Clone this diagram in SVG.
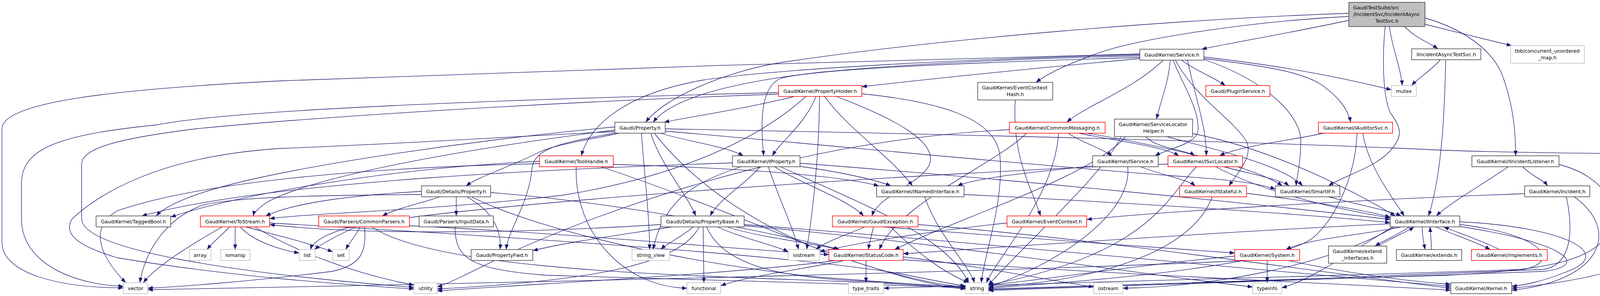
<svg xmlns="http://www.w3.org/2000/svg" width="4308" height="758" viewBox="0 0 4308 758">
<style>
.e{fill:none;stroke:#191970;stroke-width:1.3;marker-end:url(#a)}
.b{fill:#fff;stroke:#404040;stroke-width:1.5}
.r{fill:#fff;stroke:#ff0000;stroke-width:1.5}
.g{fill:#fff;stroke:#bfbfbf;stroke-width:1.5}
.rt{fill:#bfbfbf;stroke:#404040;stroke-width:1.5}
text{font-family:"DejaVu Sans",Verdana,sans-serif;font-size:12.7px;fill:#000}
.m{text-anchor:middle}
</style>
<defs>
<marker id="a" markerWidth="14" markerHeight="10" refX="13" refY="5" orient="auto" markerUnits="userSpaceOnUse"><path d="M0,0 L13,5 L0,10 z" fill="#191970"/></marker>
</defs>
<rect width="4308" height="758" fill="#fff"/>
<g id="connectors">
<path class="e" d="M3453,52 C3300,85 3150,110 3076,126"/>
<path class="e" d="M3453,42 C3200,55 2900,100 2800,140 C2720,170 2680,190 2652,211"/>
<path class="e" d="M3453,34 C3000,50 2400,100 2000,160 C1860,182 1700,250 1653,313"/>
<path class="e" d="M3546,68 C3538,150 3540,250 3560,290 C3590,330 3590,350 3560,385 C3520,430 3440,450 3401,476"/>
<path class="e" d="M3557,68 C3563,120 3585,170 3590,219"/>
<path class="e" d="M3596,68 C3620,95 3660,110 3681,125"/>
<path class="e" d="M3648,46 C3750,75 3820,130 3845,190 C3875,270 3880,340 3880,399"/>
<path class="e" d="M3648,62 C3720,80 3800,100 3870,117"/>
<path class="e" d="M3687,153 C3665,180 3630,200 3614,219"/>
<path class="e" d="M3701,153 C3698,300 3690,450 3657,553"/>
<path class="e" d="M2918,150 C2700,170 2400,200 2206,222"/>
<path class="e" d="M2918,143 C2600,150 2300,165 2100,185 C1880,210 1720,250 1672,313"/>
<path class="e" d="M2918,140 C2500,150 2000,175 1800,205 C1600,240 1510,320 1488,399"/>
<path class="e" d="M2918,147 C2500,160 2100,175 2000,200 C1950,220 1945,300 1955,399"/>
<path class="e" d="M2918,138 C2400,150 1200,185 720,207 C300,228 5,260 5,330 L5,620 C5,700 150,737 316,737"/>
<path class="e" d="M2978,154 C2900,230 2780,270 2731,313"/>
<path class="e" d="M2996,154 C2990,220 2970,260 2961,305"/>
<path class="e" d="M3024,154 C3060,180 3110,200 3137,219"/>
<path class="e" d="M3082,150 C3250,170 3330,185 3380,215 C3430,250 3450,280 3458,313"/>
<path class="e" d="M3082,146 C3250,165 3400,190 3562,230"/>
<path class="e" d="M3003,154 C3030,220 3070,280 3067,333 C3064,370 2990,380 2957,399"/>
<path class="e" d="M3040,154 C3060,250 3090,330 3088,399"/>
<path class="e" d="M3009,154 C3060,250 3150,300 3190,360 C3210,400 3170,440 3146,476"/>
<path class="e" d="M3082,152 C3250,210 3330,300 3330,360 C3330,420 3320,450 3318,476"/>
<path class="e" d="M2034,247 C1900,280 1760,300 1700,313"/>
<path class="e" d="M2089,247 C2060,320 2000,360 1977,399"/>
<path class="e" d="M2098,247 C2097,400 2080,550 2065,639"/>
<path class="e" d="M2111,247 C2170,330 2280,400 2336,476"/>
<path class="e" d="M2141,247 C2280,300 2400,360 2380,420 C2360,470 2250,500 2232,553"/>
<path class="e" d="M1993,237 C1300,255 600,280 400,320 C150,345 55,380 55,470 L55,560 C55,680 200,730 316,733"/>
<path class="e" d="M1993,241 C1400,262 800,300 500,330 C300,355 209,380 209,420 L209,560 C209,640 600,700 1060,736"/>
<path class="e" d="M2206,240 C2400,260 2550,300 2560,400 C2570,520 2520,650 2512,724"/>
<path class="e" d="M2063,247 C1950,350 1750,450 1440,500 C1100,540 800,545 690,560"/>
<path class="e" d="M1585,341 C1500,360 1420,370 1380,390 C1300,430 1230,450 1193,476"/>
<path class="e" d="M1666,341 C1690,420 1760,500 1781,553"/>
<path class="e" d="M1576,340 C1450,365 1370,375 1362,430 C1355,520 1300,590 1296,639"/>
<path class="e" d="M1690,341 C1750,360 1860,375 1903,399"/>
<path class="e" d="M1703,336 C2000,360 2600,420 3000,450 C3150,460 3230,470 3265,485"/>
<path class="e" d="M1574,325 C1200,360 800,420 600,470 C480,500 420,530 400,553"/>
<path class="e" d="M1574,333 C1200,380 800,450 680,520 C660,535 650,545 648,553"/>
<path class="e" d="M1642,341 C1650,450 1663,560 1663,639"/>
<path class="e" d="M1675,341 C1760,450 1900,560 2100,640 C2300,710 2400,735 2472,738"/>
<path class="e" d="M1574,337 C1300,350 1000,370 720,380 C400,400 250,500 185,560 C160,600 200,630 300,660 C600,710 900,730 1060,740"/>
<path class="e" d="M1703,330 C2500,345 3300,365 3700,385 C4000,395 4200,390 4270,400 C4310,420 4305,550 4295,590 C4260,680 4050,720 3870,738"/>
<path class="e" d="M2628,341 C2550,420 2300,520 2251,639"/>
<path class="e" d="M2710,341 C2700,500 2560,650 2525,724"/>
<path class="e" d="M2734,341 C2770,365 2820,380 2847,399"/>
<path class="e" d="M2762,341 C2850,360 2980,375 3018,399"/>
<path class="e" d="M2783,341 C2950,370 3200,420 3283,476"/>
<path class="e" d="M2584,332 C2000,360 1500,560 1300,650 C1200,700 1150,725 1119,735"/>
<path class="e" d="M2870,350 C2820,450 2650,600 2530,730"/>
<path class="e" d="M2881,350 C2800,450 2450,560 2290,639"/>
<path class="e" d="M2933,350 C2960,380 3040,385 3058,399"/>
<path class="e" d="M2987,350 C3100,380 3280,420 3335,476"/>
<path class="e" d="M3053,342 C3250,380 3450,480 3572,553"/>
<path class="e" d="M3390,341 C3300,360 3170,375 3122,399"/>
<path class="e" d="M3474,341 C3470,450 3420,560 3360,610 C3250,690 2700,725 2530,738"/>
<path class="e" d="M3489,341 C3500,420 3560,500 3595,553"/>
<path class="e" d="M1381,413 C1000,430 600,500 437,556"/>
<path class="e" d="M1381,419 C900,430 500,470 300,540 C230,580 250,650 322,724"/>
<path class="e" d="M1475,427 C1470,600 1600,735 1759,738"/>
<path class="e" d="M1570,421 C1900,430 2150,450 2250,476"/>
<path class="e" d="M1538,427 C1700,480 1900,560 2050,620 C2250,700 2400,730 2472,735"/>
<path class="e" d="M1897,427 C1800,460 1700,500 1672,639"/>
<path class="e" d="M1946,427 C1910,470 1840,510 1818,553"/>
<path class="e" d="M1967,427 C1990,500 2030,580 2044,639"/>
<path class="e" d="M1983,427 C2050,470 2170,510 2211,553"/>
<path class="e" d="M2048,426 C2150,440 2240,460 2281,476"/>
<path class="e" d="M2048,418 C2600,460 3200,520 3559,562"/>
<path class="e" d="M1998,427 C2200,520 2420,600 2480,724"/>
<path class="e" d="M1875,417 C1500,430 700,460 363,553"/>
<path class="e" d="M2797,425 C2650,440 2500,455 2451,476"/>
<path class="e" d="M2887,427 C2900,550 2700,680 2530,735"/>
<path class="e" d="M2920,427 C2980,450 3040,460 3060,476"/>
<path class="e" d="M2990,420 C2400,440 1200,520 900,580 C830,600 800,620 795,639"/>
<path class="e" d="M3063,427 C2990,500 2950,650 2530,730"/>
<path class="e" d="M3112,427 C3250,500 3450,540 3559,558"/>
<path class="e" d="M3133,427 C3200,445 3280,460 3300,476"/>
<path class="e" d="M3861,427 C3800,470 3710,520 3677,553"/>
<path class="e" d="M3898,427 C3920,450 3950,460 3962,476"/>
<path class="e" d="M3991,421 C4100,450 4140,520 4130,570 C4100,660 4000,690 3700,705 C3200,720 2800,730 2530,740"/>
<path class="e" d="M1126,504 C1080,520 1010,535 979,553"/>
<path class="e" d="M1168,504 L1168,553"/>
<path class="e" d="M1195,504 C1260,540 1285,590 1280,639"/>
<path class="e" d="M1079,490 C900,500 750,520 680,553"/>
<path class="e" d="M1079,498 C800,500 600,505 520,525 C420,560 370,650 358,724"/>
<path class="e" d="M1256,493 C1600,520 2000,600 2150,639"/>
<path class="e" d="M1207,504 C1400,600 1800,680 2100,710 C2300,725 2400,733 2472,733"/>
<path class="e" d="M2468,498 C2900,520 3300,545 3559,570"/>
<path class="e" d="M2367,504 C2400,600 2480,680 2495,724"/>
<path class="e" d="M3191,495 C3350,515 3480,535 3559,556"/>
<path class="e" d="M3103,504 C3050,650 2800,720 2530,735"/>
<path class="e" d="M3401,504 C3480,525 3560,540 3587,553"/>
<path class="e" d="M3903,496 C3500,510 3000,540 2782,562"/>
<path class="e" d="M4010,504 C4030,600 4020,680 3950,690 C3500,710 2900,730 2530,742"/>
<path class="e" d="M4030,504 C4150,590 4100,720 3870,743"/>
<path class="e" d="M569,581 C500,620 400,680 367,724"/>
<path class="e" d="M588,581 C570,600 545,620 530,639"/>
<path class="e" d="M602,581 L602,639"/>
<path class="e" d="M615,581 C650,620 720,640 766,648"/>
<path class="e" d="M629,581 C700,600 800,625 852,645"/>
<path class="e" d="M652,581 C750,640 900,700 1060,730"/>
<path class="e" d="M690,571 C1200,600 2000,650 2300,700 C2400,720 2450,730 2472,732"/>
<path class="e" d="M911,581 C870,600 830,620 805,639"/>
<path class="e" d="M922,581 C910,605 895,620 885,639"/>
<path class="e" d="M933,581 C940,650 920,680 850,695 C650,720 450,735 378,738"/>
<path class="e" d="M952,581 C1100,680 1600,700 2000,715 C2300,725 2420,735 2472,740"/>
<path class="e" d="M1048,578 C1500,600 1900,640 2122,652"/>
<path class="e" d="M1165,581 C1165,660 1200,690 1400,705 C1900,720 2300,730 2472,736"/>
<path class="e" d="M1775,581 C1740,610 1705,625 1692,639"/>
<path class="e" d="M1800,581 L1802,724"/>
<path class="e" d="M1836,581 C1900,610 1990,630 2018,645"/>
<path class="e" d="M1861,581 C1950,610 2100,625 2147,639"/>
<path class="e" d="M1720,581 C1600,600 1450,620 1364,642"/>
<path class="e" d="M1692,575 C1300,600 900,600 690,575"/>
<path class="e" d="M1790,581 C1740,680 1500,720 1119,740"/>
<path class="e" d="M1809,581 C1850,680 2000,710 2200,720 C2350,728 2430,733 2472,734"/>
<path class="e" d="M1905,575 C2500,620 3300,700 3714,733"/>
<path class="e" d="M1905,578 C2400,620 2900,700 3207,735"/>
<path class="e" d="M2214,581 C2170,600 2110,620 2089,639"/>
<path class="e" d="M2236,581 C2232,600 2226,620 2223,639"/>
<path class="e" d="M2260,581 C2500,600 2900,630 3161,648"/>
<path class="e" d="M2350,575 C2800,610 3400,700 3714,738"/>
<path class="e" d="M2280,581 C2350,650 2420,700 2480,724"/>
<path class="e" d="M2578,571 C2400,590 2200,620 2098,645"/>
<path class="e" d="M3608,581 C3580,600 3545,615 3520,630"/>
<path class="e" d="M3641,581 C3640,600 3645,620 3648,639"/>
<path class="e" d="M3675,581 C3720,600 3780,620 3815,639"/>
<path class="e" d="M3587,581 C3500,600 3350,610 3292,639"/>
<path class="e" d="M3559,573 C3200,590 2600,630 2312,650"/>
<path class="e" d="M3565,581 C3450,650 3350,720 3281,737"/>
<path class="e" d="M3570,581 C3400,680 3100,735 2874,738"/>
<path class="e" d="M3737,568 C4000,580 4150,650 4000,700 C3950,720 3900,731 3870,733"/>
<path class="e" d="M3737,575 C3950,600 4000,670 3900,690 C3300,710 2600,730 2262,738"/>
<path class="e" d="M3737,580 C4000,620 4080,680 3950,695 C3400,715 2800,735 2530,744"/>
<path class="e" d="M3529,630 C3560,610 3600,595 3620,581"/>
<path class="e" d="M3664,639 C3665,620 3662,600 3661,581"/>
<path class="e" d="M3839,639 C3790,615 3730,595 3696,581"/>
<path class="e" d="M2162,667 C2050,690 1900,710 1845,732"/>
<path class="e" d="M2217,667 L2217,724"/>
<path class="e" d="M2312,658 C2500,680 2700,720 2800,735"/>
<path class="e" d="M2312,665 C2800,700 3400,725 3714,743"/>
<path class="e" d="M2140,667 C1900,700 1400,725 1119,745"/>
<path class="e" d="M3244,667 L3244,724"/>
<path class="e" d="M3161,656 C2900,680 2650,720 2530,730"/>
<path class="e" d="M3190,667 C2500,700 1000,730 378,742"/>
<path class="e" d="M3298,667 C3450,700 3600,720 3714,728"/>
<path class="e" d="M2599,256 C2590,400 2640,480 2664,553"/>
</g>
<g id="root"><rect class="rt" x="3453" y="6" width="195" height="62"/><text x="3464" y="24">GaudiTestSuite/src</text><text x="3464" y="41">/IncidentSvc/IncidentAsync</text><text class="m" x="3550.5" y="58">TestSvc.h</text></g>
<g id="service"><rect class="b" x="2918" y="126" width="164" height="28"/><text class="m" x="3000" y="145">GaudiKernel/Service.h</text></g>
<g id="iiatsvc"><rect class="b" x="3614" y="125" width="177" height="28"/><text class="m" x="3702.5" y="144">IIncidentAsyncTestSvc.h</text></g>
<g id="tbb"><rect class="g" x="3867" y="117" width="189" height="45"/><text x="3878" y="135">tbb/concurrent_unordered</text><text class="m" x="3961.5" y="152">_map.h</text></g>
<g id="ech"><rect class="b" x="2503" y="211" width="192" height="45"/><text x="2514" y="229">GaudiKernel/EventContext</text><text class="m" x="2599" y="246">Hash.h</text></g>
<g id="propholder"><rect class="r" x="1993" y="219" width="213" height="28"/><text class="m" x="2099.5" y="238">GaudiKernel/PropertyHolder.h</text></g>
<g id="pluginsvc"><rect class="r" x="3087" y="219" width="164" height="28"/><text class="m" x="3169" y="238">Gaudi/PluginService.h</text></g>
<g id="mutex"><rect class="g" x="3562" y="219" width="64" height="28"/><text class="m" x="3594" y="238">mutex</text></g>
<g id="property"><rect class="b" x="1574" y="313" width="129" height="28"/><text class="m" x="1638.5" y="332">Gaudi/Property.h</text></g>
<g id="commonmsg"><rect class="r" x="2584" y="313" width="245" height="28"/><text class="m" x="2706.5" y="332">GaudiKernel/CommonMessaging.h</text></g>
<g id="slh"><rect class="b" x="2853" y="305" width="200" height="45"/><text x="2864" y="323">GaudiKernel/ServiceLocator</text><text class="m" x="2953" y="340">Helper.h</text></g>
<g id="iauditor"><rect class="r" x="3375" y="313" width="190" height="28"/><text class="m" x="3470" y="332">GaudiKernel/IAuditorSvc.h</text></g>
<g id="toolhandle"><rect class="r" x="1381" y="399" width="189" height="28"/><text class="m" x="1475.5" y="418">GaudiKernel/ToolHandle.h</text></g>
<g id="iproperty"><rect class="b" x="1875" y="399" width="173" height="28"/><text class="m" x="1961.5" y="418">GaudiKernel/IProperty.h</text></g>
<g id="iservice"><rect class="b" x="2797" y="399" width="168" height="28"/><text class="m" x="2881" y="418">GaudiKernel/IService.h</text></g>
<g id="isvcloc"><rect class="r" x="2990" y="399" width="191" height="28"/><text class="m" x="3085.5" y="418">GaudiKernel/ISvcLocator.h</text></g>
<g id="iincl"><rect class="b" x="3768" y="399" width="223" height="28"/><text class="m" x="3879.5" y="418">GaudiKernel/IIncidentListener.h</text></g>
<g id="detprop"><rect class="b" x="1079" y="476" width="177" height="28"/><text class="m" x="1167.5" y="495">Gaudi/Details/Property.h</text></g>
<g id="inamed"><rect class="b" x="2244" y="476" width="224" height="28"/><text class="m" x="2356" y="495">GaudiKernel/INamedInterface.h</text></g>
<g id="istateful"><rect class="r" x="3020" y="476" width="171" height="28"/><text class="m" x="3105.5" y="495">GaudiKernel/IStateful.h</text></g>
<g id="smartif"><rect class="b" x="3265" y="476" width="165" height="28"/><text class="m" x="3347.5" y="495">GaudiKernel/SmartIF.h</text></g>
<g id="incident"><rect class="b" x="3903" y="476" width="167" height="28"/><text class="m" x="3986.5" y="495">GaudiKernel/Incident.h</text></g>
<g id="taggedbool"><rect class="b" x="246" y="553" width="191" height="28"/><text class="m" x="341.5" y="572">GaudiKernel/TaggedBool.h</text></g>
<g id="tostream"><rect class="r" x="513" y="553" width="177" height="28"/><text class="m" x="601.5" y="572">GaudiKernel/ToStream.h</text></g>
<g id="commonparsers"><rect class="r" x="816" y="553" width="232" height="28"/><text class="m" x="932" y="572">Gaudi/Parsers/CommonParsers.h</text></g>
<g id="inputdata"><rect class="b" x="1073" y="553" width="190" height="28"/><text class="m" x="1168" y="572">Gaudi/Parsers/InputData.h</text></g>
<g id="propbase"><rect class="b" x="1692" y="553" width="213" height="28"/><text class="m" x="1798.5" y="572">Gaudi/Details/PropertyBase.h</text></g>
<g id="gaudiexc"><rect class="r" x="2131" y="553" width="219" height="28"/><text class="m" x="2240.5" y="572">GaudiKernel/GaudiException.h</text></g>
<g id="eventctx"><rect class="r" x="2578" y="553" width="204" height="28"/><text class="m" x="2680" y="572">GaudiKernel/EventContext.h</text></g>
<g id="iinterface"><rect class="b" x="3559" y="553" width="178" height="28"/><text class="m" x="3648" y="572">GaudiKernel/IInterface.h</text></g>
<g id="array"><rect class="g" x="485" y="639" width="55" height="28"/><text class="m" x="512.5" y="658">array</text></g>
<g id="iomanip"><rect class="g" x="565" y="639" width="75" height="28"/><text class="m" x="602.5" y="658">iomanip</text></g>
<g id="list"><rect class="g" x="766" y="639" width="41" height="28"/><text class="m" x="786.5" y="658">list</text></g>
<g id="set"><rect class="g" x="852" y="639" width="42" height="28"/><text class="m" x="873" y="658">set</text></g>
<g id="propfwd"><rect class="b" x="1206" y="639" width="158" height="28"/><text class="m" x="1285" y="658">Gaudi/PropertyFwd.h</text></g>
<g id="string_view"><rect class="g" x="1618" y="639" width="96" height="28"/><text class="m" x="1666" y="658">string_view</text></g>
<g id="iostream"><rect class="g" x="2018" y="639" width="80" height="28"/><text class="m" x="2058" y="658">iostream</text></g>
<g id="statuscode"><rect class="r" x="2122" y="639" width="190" height="28"/><text class="m" x="2217" y="658">GaudiKernel/StatusCode.h</text></g>
<g id="system"><rect class="r" x="3161" y="639" width="166" height="28"/><text class="m" x="3244" y="658">GaudiKernel/System.h</text></g>
<g id="extendif"><rect class="b" x="3401" y="630" width="149" height="44"/><text x="3412" y="648">GaudiKernel/extend</text><text class="m" x="3475.5" y="665">_interfaces.h</text></g>
<g id="extends"><rect class="b" x="3575" y="639" width="167" height="28"/><text class="m" x="3658.5" y="658">GaudiKernel/extends.h</text></g>
<g id="implements"><rect class="r" x="3767" y="639" width="194" height="28"/><text class="m" x="3864" y="658">GaudiKernel/implements.h</text></g>
<g id="vector"><rect class="g" x="316" y="724" width="62" height="28"/><text class="m" x="347" y="743">vector</text></g>
<g id="utility"><rect class="g" x="1060" y="724" width="59" height="28"/><text class="m" x="1089.5" y="743">utility</text></g>
<g id="functional"><rect class="g" x="1759" y="724" width="86" height="28"/><text class="m" x="1802" y="743">functional</text></g>
<g id="type_traits"><rect class="g" x="2172" y="724" width="90" height="28"/><text class="m" x="2217" y="743">type_traits</text></g>
<g id="string"><rect class="g" x="2472" y="724" width="58" height="28"/><text class="m" x="2501" y="743">string</text></g>
<g id="ostream"><rect class="g" x="2800" y="724" width="74" height="28"/><text class="m" x="2837" y="743">ostream</text></g>
<g id="typeinfo"><rect class="g" x="3207" y="724" width="74" height="28"/><text class="m" x="3244" y="743">typeinfo</text></g>
<g id="kernel"><rect class="b" x="3714" y="724" width="156" height="28"/><text class="m" x="3792" y="743">GaudiKernel/Kernel.h</text></g>
</svg>
